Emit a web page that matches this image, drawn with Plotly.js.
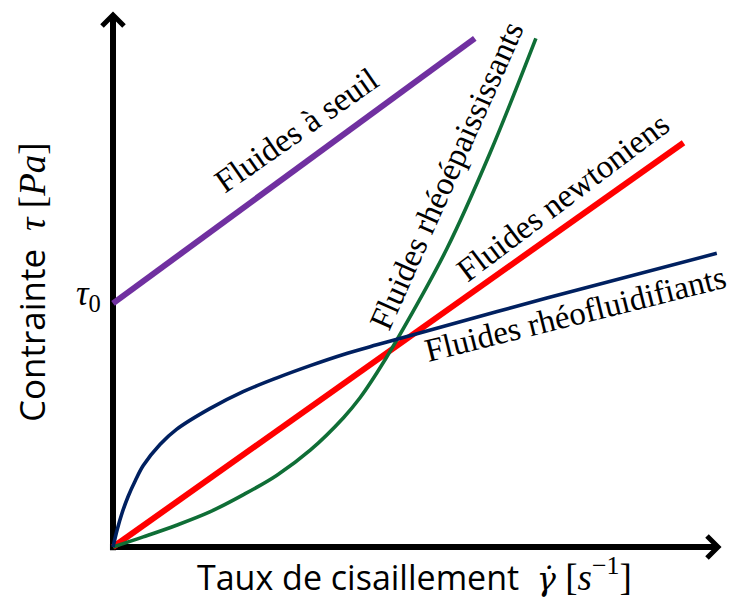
<!DOCTYPE html>
<html>
<head>
<meta charset="utf-8">
<script src="https://cdn.plot.ly/plotly-3.0.1.min.js"></script>
<style>html,body{margin:0;padding:0;background:#fff;}</style>
</head>
<body>
<div id="chart" style="width:731px;height:601px;"></div>
<script>
// Shear rate (x) and shear stress (y), arbitrary units
const xSeuil = [0, 5.98];
const ySeuil = [4.58, 9.56];

const xNewton = [0, 9.43];
const yNewton = [0, 7.60];

const xEpais = [0, 0.50, 1.05, 1.60, 2.15, 2.71, 3.26, 3.81, 4.08, 4.36, 4.68, 5.52, 6.23, 6.99];
const yEpais = [0, 0.19, 0.41, 0.66, 0.98, 1.35, 1.82, 2.43, 2.80, 3.27, 3.87, 5.61, 7.40, 9.56];

const xFluid = [0, 0.07, 0.15, 0.25, 0.37, 0.50, 0.78, 1.05, 1.60, 2.15, 2.71, 3.26, 3.81, 4.36, 4.74, 7.17, 9.98];
const yFluid = [0, 0.33, 0.64, 0.95, 1.25, 1.53, 1.93, 2.21, 2.60, 2.92, 3.18, 3.41, 3.62, 3.80, 3.92, 4.68, 5.52];

const labels = ["Fluides à seuil", "Fluides rhéoépaississants", "Fluides newtoniens", "Fluides rhéofluidifiants"];
const tau0 = ySeuil[0];

const serif = "Liberation Serif, Times New Roman, serif";
const sans = "Open Sans, sans-serif";

const traces = [
  {x: xSeuil, y: ySeuil, mode: "lines", line: {color: "#7030A0", width: 6}, name: labels[0]},
  {x: xNewton, y: yNewton, mode: "lines", line: {color: "#FF0000", width: 6}, name: labels[2]},
  {x: xEpais, y: yEpais, mode: "lines", line: {color: "#0F6E36", width: 3.6, shape: "spline", smoothing: 1}, name: labels[1]},
  {x: xFluid, y: yFluid, mode: "lines", line: {color: "#002060", width: 3.6, shape: "spline", smoothing: 1}, name: labels[3]}
];

// the plot area covers the whole figure; axis origin sits at pixel (113, 547)
const pxX = 60.5, pxY = 53.2;            // pixels per data unit
const xRange = [-113 / pxX, 10 + 13 / pxX];
const yRange = [-54 / pxY, 10 + 15 / pxY];

const hw = 11, hl = 11;
const yTip = 10, xTip = 10;
const chevY = `M ${-hw/pxX},${yTip - hl/pxY} L 0,${yTip} L ${hw/pxX},${yTip - hl/pxY}`;
const chevX = `M ${xTip - hl/pxX},${hw/pxY} L ${xTip},0 L ${xTip - hl/pxX},${-hw/pxY}`;

const layout = {
  width: 731, height: 601,
  margin: {l: 0, r: 0, t: 0, b: 0},
  paper_bgcolor: "#ffffff", plot_bgcolor: "#ffffff",
  showlegend: false,
  xaxis: {range: xRange, visible: false, fixedrange: true},
  yaxis: {range: yRange, visible: false, fixedrange: true},
  shapes: [
    {type: "line", xref: "x", yref: "y", x0: 0, y0: -0.06, x1: 0, y1: 9.97, line: {color: "#000", width: 6}, layer: "below"},
    {type: "line", xref: "x", yref: "y", x0: -0.05, y0: 0, x1: 9.97, y1: 0, line: {color: "#000", width: 6}, layer: "below"},
    {type: "path", xref: "x", yref: "y", path: chevY, line: {color: "#000", width: 5}, layer: "below"},
    {type: "path", xref: "x", yref: "y", path: chevX, line: {color: "#000", width: 5}, layer: "below"}
  ],
  annotations: [
    {x: 3.04, y: 7.84, xref: "x", yref: "y", text: labels[0], textangle: -35, showarrow: false,
     font: {family: serif, size: 33, color: "#000"}, xanchor: "center", yanchor: "middle"},
    {x: 5.52, y: 6.99, xref: "x", yref: "y", text: labels[1], textangle: -66, showarrow: false,
     font: {family: serif, size: 33, color: "#000"}, xanchor: "center", yanchor: "middle"},
    {x: 7.44, y: 6.58, xref: "x", yref: "y", text: labels[2], textangle: -37, showarrow: false,
     font: {family: serif, size: 33, color: "#000"}, xanchor: "center", yanchor: "middle"},
    {x: 7.64, y: 4.38, xref: "x", yref: "y", text: labels[3], textangle: -14, showarrow: false,
     font: {family: serif, size: 33, color: "#000"}, xanchor: "center", yanchor: "middle"},
    {x: 0, y: tau0, xref: "x", yref: "y", text: "<i>τ</i><sub>0</sub>", showarrow: false,
     xanchor: "right", yanchor: "middle", xshift: -10, yshift: 8,
     font: {family: serif, size: 35, color: "#000"}},
    {x: -1.355, y: 4.98, xref: "x", yref: "y", textangle: -90, showarrow: false,
     xanchor: "center", yanchor: "middle",
     text: "Contrainte\u00a0\u00a0<span style=\"font-family:Liberation Serif;font-size:37px\"><i>τ</i>\u00a0[<i>Pa</i>]</span>",
     font: {family: sans, size: 35, color: "#000"}},
    {x: 4.99, y: -0.535, xref: "x", yref: "y", showarrow: false,
     xanchor: "center", yanchor: "middle",
     text: "Taux de cisaillement\u00a0\u00a0<span style=\"font-family:DejaVu Serif;font-size:32px\"><i>γ\u0307</i></span><span style=\"font-family:Liberation Serif;font-size:37px\">\u00a0[<i>s</i><sup>−1</sup>]</span>",
     font: {family: sans, size: 34, color: "#000"}}
  ]
};

Plotly.newPlot("chart", traces, layout, {staticPlot: true, displayModeBar: false});
</script>
</body>
</html>
